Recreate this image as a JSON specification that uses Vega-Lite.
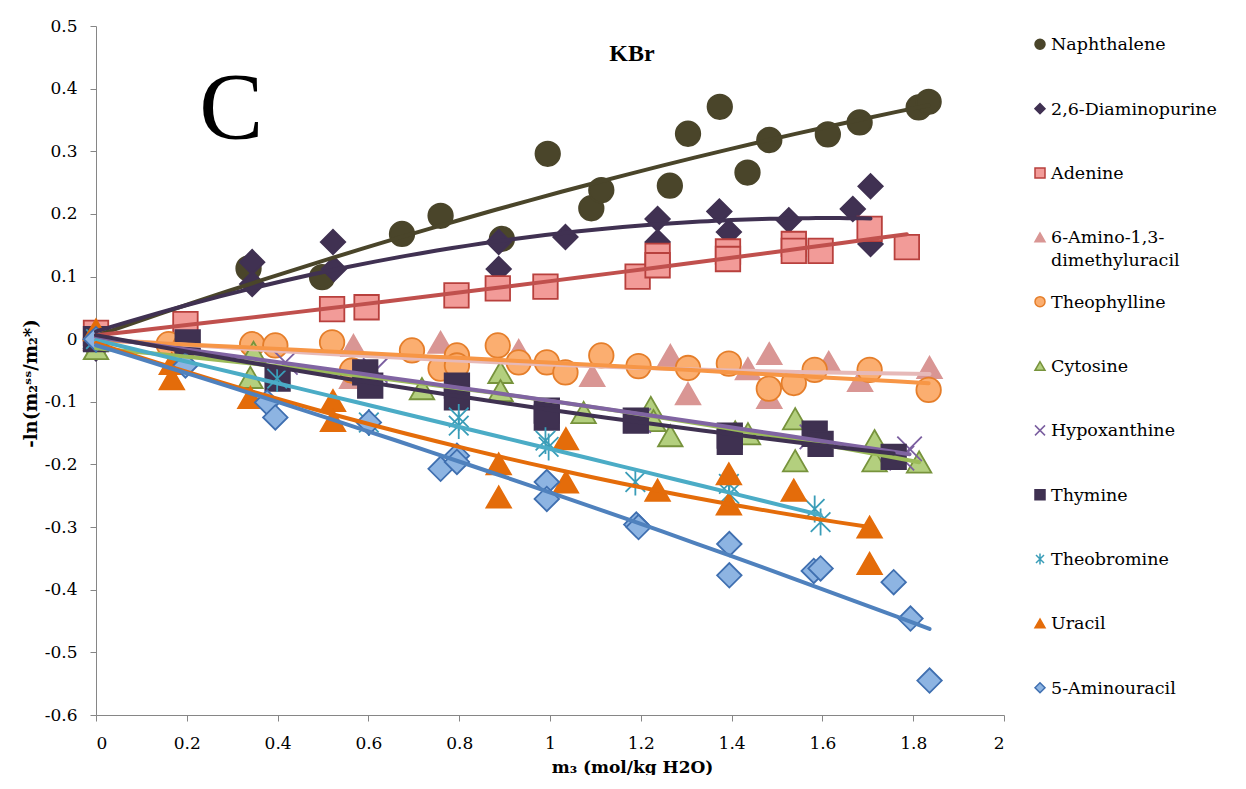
{
  "$schema": "https://vega.github.io/schema/vega-lite/v6.json",
  "background": "white",
  "padding": {"left": 22, "top": 17, "right": 0, "bottom": 0},
  "bounds": "flush",
  "spacing": 36,
  "config": {
    "view": {"stroke": null},
    "font": "DejaVu Serif",
    "axis": {
      "grid": false,
      "domainColor": "#868686",
      "tickColor": "#868686",
      "tickSize": 6,
      "labelFont": "DejaVu Serif",
      "labelFontSize": 17,
      "labelColor": "#000000",
      "titleFont": "DejaVu Serif",
      "titleFontWeight": "bold",
      "titleColor": "#000000"
    }
  },
  "title": {
    "text": "C",
    "font": "Liberation Serif",
    "fontSize": 96,
    "fontWeight": "normal",
    "color": "#000000",
    "anchor": "start",
    "frame": "bounds",
    "baseline": "alphabetic",
    "offset": -218,
    "dx": 177
  },
  "datasets": {
    "points": [
      {"series": "Naphthalene", "x": 0, "y": 0},
      {"series": "Naphthalene", "x": 0.336, "y": 0.113},
      {"series": "Naphthalene", "x": 0.498, "y": 0.099},
      {"series": "Naphthalene", "x": 0.674, "y": 0.168},
      {"series": "Naphthalene", "x": 0.759, "y": 0.197},
      {"series": "Naphthalene", "x": 0.894, "y": 0.16},
      {"series": "Naphthalene", "x": 0.995, "y": 0.296},
      {"series": "Naphthalene", "x": 1.091, "y": 0.209},
      {"series": "Naphthalene", "x": 1.113, "y": 0.238},
      {"series": "Naphthalene", "x": 1.264, "y": 0.245},
      {"series": "Naphthalene", "x": 1.304, "y": 0.328},
      {"series": "Naphthalene", "x": 1.374, "y": 0.371},
      {"series": "Naphthalene", "x": 1.435, "y": 0.266},
      {"series": "Naphthalene", "x": 1.483, "y": 0.318},
      {"series": "Naphthalene", "x": 1.612, "y": 0.327},
      {"series": "Naphthalene", "x": 1.682, "y": 0.346},
      {"series": "Naphthalene", "x": 1.812, "y": 0.37},
      {"series": "Naphthalene", "x": 1.834, "y": 0.379},

      {"series": "2,6-Diaminopurine", "x": 0, "y": 0},
      {"series": "2,6-Diaminopurine", "x": 0, "y": -0.015},
      {"series": "2,6-Diaminopurine", "x": 0.344, "y": 0.123},
      {"series": "2,6-Diaminopurine", "x": 0.344, "y": 0.088},
      {"series": "2,6-Diaminopurine", "x": 0.522, "y": 0.155},
      {"series": "2,6-Diaminopurine", "x": 0.524, "y": 0.112},
      {"series": "2,6-Diaminopurine", "x": 0.887, "y": 0.155},
      {"series": "2,6-Diaminopurine", "x": 0.887, "y": 0.112},
      {"series": "2,6-Diaminopurine", "x": 1.034, "y": 0.163},
      {"series": "2,6-Diaminopurine", "x": 1.237, "y": 0.192},
      {"series": "2,6-Diaminopurine", "x": 1.237, "y": 0.155},
      {"series": "2,6-Diaminopurine", "x": 1.373, "y": 0.204},
      {"series": "2,6-Diaminopurine", "x": 1.394, "y": 0.171},
      {"series": "2,6-Diaminopurine", "x": 1.526, "y": 0.19},
      {"series": "2,6-Diaminopurine", "x": 1.667, "y": 0.208},
      {"series": "2,6-Diaminopurine", "x": 1.706, "y": 0.244},
      {"series": "2,6-Diaminopurine", "x": 1.706, "y": 0.152},

      {"series": "Adenine", "x": 0, "y": 0.01},
      {"series": "Adenine", "x": 0.197, "y": 0.024},
      {"series": "Adenine", "x": 0.52, "y": 0.048},
      {"series": "Adenine", "x": 0.596, "y": 0.051},
      {"series": "Adenine", "x": 0.794, "y": 0.07},
      {"series": "Adenine", "x": 0.885, "y": 0.081},
      {"series": "Adenine", "x": 0.99, "y": 0.084},
      {"series": "Adenine", "x": 1.193, "y": 0.1},
      {"series": "Adenine", "x": 1.237, "y": 0.133},
      {"series": "Adenine", "x": 1.237, "y": 0.118},
      {"series": "Adenine", "x": 1.392, "y": 0.14},
      {"series": "Adenine", "x": 1.392, "y": 0.128},
      {"series": "Adenine", "x": 1.537, "y": 0.152},
      {"series": "Adenine", "x": 1.537, "y": 0.141},
      {"series": "Adenine", "x": 1.596, "y": 0.141},
      {"series": "Adenine", "x": 1.704, "y": 0.176},
      {"series": "Adenine", "x": 1.786, "y": 0.147},

      {"series": "6-Amino-1,3-dimethyluracil", "x": 0, "y": 0},
      {"series": "6-Amino-1,3-dimethyluracil", "x": 0.567, "y": -0.01},
      {"series": "6-Amino-1,3-dimethyluracil", "x": 0.564, "y": -0.061},
      {"series": "6-Amino-1,3-dimethyluracil", "x": 0.759, "y": -0.005},
      {"series": "6-Amino-1,3-dimethyluracil", "x": 0.931, "y": -0.018},
      {"series": "6-Amino-1,3-dimethyluracil", "x": 1.093, "y": -0.058},
      {"series": "6-Amino-1,3-dimethyluracil", "x": 1.265, "y": -0.026},
      {"series": "6-Amino-1,3-dimethyluracil", "x": 1.304, "y": -0.087},
      {"series": "6-Amino-1,3-dimethyluracil", "x": 1.436, "y": -0.047},
      {"series": "6-Amino-1,3-dimethyluracil", "x": 1.483, "y": -0.023},
      {"series": "6-Amino-1,3-dimethyluracil", "x": 1.483, "y": -0.093},
      {"series": "6-Amino-1,3-dimethyluracil", "x": 1.614, "y": -0.037},
      {"series": "6-Amino-1,3-dimethyluracil", "x": 1.683, "y": -0.066},
      {"series": "6-Amino-1,3-dimethyluracil", "x": 1.836, "y": -0.045},

      {"series": "Theophylline", "x": 0, "y": 0},
      {"series": "Theophylline", "x": 0.16, "y": -0.008},
      {"series": "Theophylline", "x": 0.197, "y": -0.01},
      {"series": "Theophylline", "x": 0.344, "y": -0.008},
      {"series": "Theophylline", "x": 0.395, "y": -0.01},
      {"series": "Theophylline", "x": 0.52, "y": -0.005},
      {"series": "Theophylline", "x": 0.564, "y": -0.05},
      {"series": "Theophylline", "x": 0.696, "y": -0.018},
      {"series": "Theophylline", "x": 0.759, "y": -0.047},
      {"series": "Theophylline", "x": 0.795, "y": -0.026},
      {"series": "Theophylline", "x": 0.795, "y": -0.042},
      {"series": "Theophylline", "x": 0.885, "y": -0.01},
      {"series": "Theophylline", "x": 0.931, "y": -0.037},
      {"series": "Theophylline", "x": 0.993, "y": -0.037},
      {"series": "Theophylline", "x": 1.034, "y": -0.053},
      {"series": "Theophylline", "x": 1.113, "y": -0.026},
      {"series": "Theophylline", "x": 1.195, "y": -0.043},
      {"series": "Theophylline", "x": 1.304, "y": -0.046},
      {"series": "Theophylline", "x": 1.394, "y": -0.039},
      {"series": "Theophylline", "x": 1.482, "y": -0.079},
      {"series": "Theophylline", "x": 1.537, "y": -0.07},
      {"series": "Theophylline", "x": 1.583, "y": -0.049},
      {"series": "Theophylline", "x": 1.704, "y": -0.049},
      {"series": "Theophylline", "x": 1.834, "y": -0.081},

      {"series": "Cytosine", "x": 0, "y": -0.015},
      {"series": "Cytosine", "x": 0.347, "y": -0.021},
      {"series": "Cytosine", "x": 0.34, "y": -0.061},
      {"series": "Cytosine", "x": 0.718, "y": -0.079},
      {"series": "Cytosine", "x": 0.891, "y": -0.053},
      {"series": "Cytosine", "x": 0.891, "y": -0.082},
      {"series": "Cytosine", "x": 1.074, "y": -0.117},
      {"series": "Cytosine", "x": 1.222, "y": -0.109},
      {"series": "Cytosine", "x": 1.228, "y": -0.13},
      {"series": "Cytosine", "x": 1.265, "y": -0.154},
      {"series": "Cytosine", "x": 1.408, "y": -0.148},
      {"series": "Cytosine", "x": 1.436, "y": -0.151},
      {"series": "Cytosine", "x": 1.54, "y": -0.127},
      {"series": "Cytosine", "x": 1.54, "y": -0.194},
      {"series": "Cytosine", "x": 1.715, "y": -0.162},
      {"series": "Cytosine", "x": 1.715, "y": -0.194},
      {"series": "Cytosine", "x": 1.813, "y": -0.196},

      {"series": "Hypoxanthine", "x": 0, "y": 0},
      {"series": "Hypoxanthine", "x": 0.417, "y": -0.037},
      {"series": "Hypoxanthine", "x": 0.615, "y": -0.05},
      {"series": "Hypoxanthine", "x": 1.195, "y": -0.13},
      {"series": "Hypoxanthine", "x": 1.577, "y": -0.156},
      {"series": "Hypoxanthine", "x": 1.792, "y": -0.175},
      {"series": "Hypoxanthine", "x": 1.775, "y": -0.19},

      {"series": "Thymine", "x": 0, "y": 0},
      {"series": "Thymine", "x": 0.202, "y": -0.005},
      {"series": "Thymine", "x": 0.4, "y": -0.063},
      {"series": "Thymine", "x": 0.593, "y": -0.053},
      {"series": "Thymine", "x": 0.604, "y": -0.074},
      {"series": "Thymine", "x": 0.795, "y": -0.074},
      {"series": "Thymine", "x": 0.795, "y": -0.093},
      {"series": "Thymine", "x": 0.993, "y": -0.114},
      {"series": "Thymine", "x": 0.993, "y": -0.125},
      {"series": "Thymine", "x": 1.189, "y": -0.13},
      {"series": "Thymine", "x": 1.396, "y": -0.154},
      {"series": "Thymine", "x": 1.396, "y": -0.164},
      {"series": "Thymine", "x": 1.583, "y": -0.151},
      {"series": "Thymine", "x": 1.596, "y": -0.167},
      {"series": "Thymine", "x": 1.757, "y": -0.188},

      {"series": "Theobromine", "x": 0, "y": 0},
      {"series": "Theobromine", "x": 0.399, "y": -0.063},
      {"series": "Theobromine", "x": 0.601, "y": -0.133},
      {"series": "Theobromine", "x": 0.799, "y": -0.125},
      {"series": "Theobromine", "x": 0.799, "y": -0.138},
      {"series": "Theobromine", "x": 0.99, "y": -0.162},
      {"series": "Theobromine", "x": 0.997, "y": -0.172},
      {"series": "Theobromine", "x": 1.188, "y": -0.228},
      {"series": "Theobromine", "x": 1.394, "y": -0.231},
      {"series": "Theobromine", "x": 1.395, "y": -0.247},
      {"series": "Theobromine", "x": 1.583, "y": -0.271},
      {"series": "Theobromine", "x": 1.596, "y": -0.292},

      {"series": "Uracil", "x": 0, "y": 0.015},
      {"series": "Uracil", "x": 0.167, "y": -0.063},
      {"series": "Uracil", "x": 0.167, "y": -0.039},
      {"series": "Uracil", "x": 0.34, "y": -0.093},
      {"series": "Uracil", "x": 0.522, "y": -0.098},
      {"series": "Uracil", "x": 0.522, "y": -0.13},
      {"series": "Uracil", "x": 0.887, "y": -0.199},
      {"series": "Uracil", "x": 0.887, "y": -0.252},
      {"series": "Uracil", "x": 1.035, "y": -0.159},
      {"series": "Uracil", "x": 1.035, "y": -0.228},
      {"series": "Uracil", "x": 1.237, "y": -0.241},
      {"series": "Uracil", "x": 1.394, "y": -0.215},
      {"series": "Uracil", "x": 1.394, "y": -0.263},
      {"series": "Uracil", "x": 1.537, "y": -0.241},
      {"series": "Uracil", "x": 1.704, "y": -0.3},
      {"series": "Uracil", "x": 1.704, "y": -0.358},

      {"series": "5-Aminouracil", "x": 0, "y": 0},
      {"series": "5-Aminouracil", "x": 0.197, "y": -0.042},
      {"series": "5-Aminouracil", "x": 0.377, "y": -0.101},
      {"series": "5-Aminouracil", "x": 0.395, "y": -0.125},
      {"series": "5-Aminouracil", "x": 0.601, "y": -0.133},
      {"series": "5-Aminouracil", "x": 0.759, "y": -0.207},
      {"series": "5-Aminouracil", "x": 0.795, "y": -0.186},
      {"series": "5-Aminouracil", "x": 0.795, "y": -0.196},
      {"series": "5-Aminouracil", "x": 0.993, "y": -0.228},
      {"series": "5-Aminouracil", "x": 0.993, "y": -0.255},
      {"series": "5-Aminouracil", "x": 1.19, "y": -0.296},
      {"series": "5-Aminouracil", "x": 1.195, "y": -0.3},
      {"series": "5-Aminouracil", "x": 1.395, "y": -0.327},
      {"series": "5-Aminouracil", "x": 1.395, "y": -0.377},
      {"series": "5-Aminouracil", "x": 1.581, "y": -0.37},
      {"series": "5-Aminouracil", "x": 1.596, "y": -0.366},
      {"series": "5-Aminouracil", "x": 1.757, "y": -0.388},
      {"series": "5-Aminouracil", "x": 1.794, "y": -0.446},
      {"series": "5-Aminouracil", "x": 1.836, "y": -0.545}
    ],
    "legend": [
      {"rank": 0, "series": "Naphthalene", "label": "Naphthalene"},
      {"rank": 1, "series": "2,6-Diaminopurine", "label": "2,6-Diaminopurine"},
      {"rank": 2, "series": "Adenine", "label": "Adenine"},
      {"rank": 3, "series": "6-Amino-1,3-dimethyluracil", "label": "6-Amino-1,3-\ndimethyluracil"},
      {"rank": 4, "series": "Theophylline", "label": "Theophylline"},
      {"rank": 5, "series": "Cytosine", "label": "Cytosine"},
      {"rank": 6, "series": "Hypoxanthine", "label": "Hypoxanthine"},
      {"rank": 7, "series": "Thymine", "label": "Thymine"},
      {"rank": 8, "series": "Theobromine", "label": "Theobromine"},
      {"rank": 9, "series": "Uracil", "label": "Uracil"},
      {"rank": 10, "series": "5-Aminouracil", "label": "5-Aminouracil"}
    ]
  },
  "hconcat": [
    {
      "width": 908,
      "height": 689,
      "title": {
        "text": "KBr",
        "font": "Liberation Serif",
        "fontSize": 24,
        "fontWeight": "bold",
        "color": "#000000",
        "anchor": "middle",
        "frame": "group",
        "baseline": "alphabetic",
        "offset": -68,
        "dx": 82
      },
      "data": {"name": "points"},
      "layer": [
        {
          "mark": {"type": "point", "filled": true, "opacity": 1, "strokeWidth": 1.8, "size": 600},
          "encoding": {
            "x": {
              "field": "x",
              "type": "quantitative",
              "scale": {"domain": [0, 2], "nice": false, "zero": false},
              "axis": {
                "values": [0, 0.2, 0.4, 0.6, 0.8, 1, 1.2, 1.4, 1.6, 1.8, 2],
                "labelExpr": "toString(round(datum.value * 10) / 10)",
                "labelPadding": 14,
                "title": "m₃ (mol/kg H2O)",
                "titleFontSize": 17,
                "titlePadding": 8,
                "titleX": 536
              }
            },
            "y": {
              "field": "y",
              "type": "quantitative",
              "scale": {"domain": [-0.6, 0.5], "nice": false, "zero": false},
              "axis": {
                "values": [-0.6, -0.5, -0.4, -0.3, -0.2, -0.1, 0, 0.1, 0.2, 0.3, 0.4, 0.5],
                "labelExpr": "toString(round(datum.value * 10) / 10)",
                "labelPadding": 13,
                "title": "-ln(m₂ˢˢ/m₂*)",
                "titleFontSize": 18,
                "titlePadding": 4,
                "titleY": 357
              }
            },
            "shape": {
              "field": "series",
              "type": "nominal",
              "legend": null,
              "scale": {
                "domain": ["Naphthalene", "2,6-Diaminopurine", "Adenine", "6-Amino-1,3-dimethyluracil", "Theophylline", "Cytosine", "Hypoxanthine", "Thymine", "Theobromine", "Uracil", "5-Aminouracil"],
                "range": ["circle", "diamond", "square", "triangle-up", "circle", "triangle-up", "M-1,-1L1,1M-1,1L1,-1", "square", "M0,-1.1L0,1.1M-0.8,-0.8L0.8,0.8M-0.8,0.8L0.8,-0.8", "triangle-up", "diamond"]
              }
            },
            "fill": {
              "field": "series",
              "type": "nominal",
              "legend": null,
              "scale": {
                "domain": ["Naphthalene", "2,6-Diaminopurine", "Adenine", "6-Amino-1,3-dimethyluracil", "Theophylline", "Cytosine", "Hypoxanthine", "Thymine", "Theobromine", "Uracil", "5-Aminouracil"],
                "range": ["#4A452A", "#403152", "#F29B98", "#D99694", "#FBAE70", "#B3CF7E", "transparent", "#3F3151", "transparent", "#E46C0A", "#8DB4E2"]
              }
            },
            "stroke": {
              "field": "series",
              "type": "nominal",
              "legend": null,
              "scale": {
                "domain": ["Naphthalene", "2,6-Diaminopurine", "Adenine", "6-Amino-1,3-dimethyluracil", "Theophylline", "Cytosine", "Hypoxanthine", "Thymine", "Theobromine", "Uracil", "5-Aminouracil"],
                "range": ["#4A452A", "#403152", "#B8403D", "#D99694", "#E57E2A", "#77933C", "#7B5FA0", "#3F3151", "#3A9DB8", "#E46C0A", "#3F6FB0"]
              }
            }
          }
        },
        {
          "transform": [
            {"regression": "y", "on": "x", "groupby": ["series"], "method": "poly", "order": 2}
          ],
          "mark": {"type": "line", "strokeWidth": 4, "strokeCap": "round"},
          "encoding": {
            "x": {"field": "x", "type": "quantitative"},
            "y": {"field": "y", "type": "quantitative"},
            "color": {
              "field": "series",
              "type": "nominal",
              "legend": null,
              "scale": {
                "domain": ["Naphthalene", "2,6-Diaminopurine", "Adenine", "6-Amino-1,3-dimethyluracil", "Theophylline", "Cytosine", "Hypoxanthine", "Thymine", "Theobromine", "Uracil", "5-Aminouracil"],
                "range": ["#4A452A", "#403152", "#C0504D", "#E6B9B8", "#F79646", "#9BBB59", "#8064A2", "#3F3151", "#4BACC6", "#E46C0A", "#4F81BD"]
              }
            }
          }
        }
      ]
    },
    {
      "width": 190,
      "height": 689,
      "data": {"name": "legend"},
      "layer": [
        {
          "mark": {"type": "point", "filled": true, "opacity": 1, "strokeWidth": 1.5, "size": 100},
          "encoding": {
            "x": {"datum": 0, "type": "quantitative", "scale": {"domain": [0, 1], "nice": false}, "axis": null},
            "y": {"field": "rank", "type": "quantitative", "scale": {"domain": [-0.2845, 10.424], "reverse": true, "nice": false, "zero": false}, "axis": null},
            "shape": {"field": "series", "type": "nominal", "legend": null},
            "fill": {"field": "series", "type": "nominal", "legend": null},
            "stroke": {"field": "series", "type": "nominal", "legend": null}
          }
        },
        {
          "mark": {"type": "text", "align": "left", "baseline": "alphabetic", "dx": 11, "dy": 6, "font": "DejaVu Serif", "fontSize": 17.5, "lineBreak": "\n", "lineHeight": 22.7, "color": "#000000"},
          "encoding": {
            "x": {"datum": 0, "type": "quantitative"},
            "y": {"field": "rank", "type": "quantitative"},
            "text": {"field": "label"}
          }
        }
      ]
    }
  ]
}
